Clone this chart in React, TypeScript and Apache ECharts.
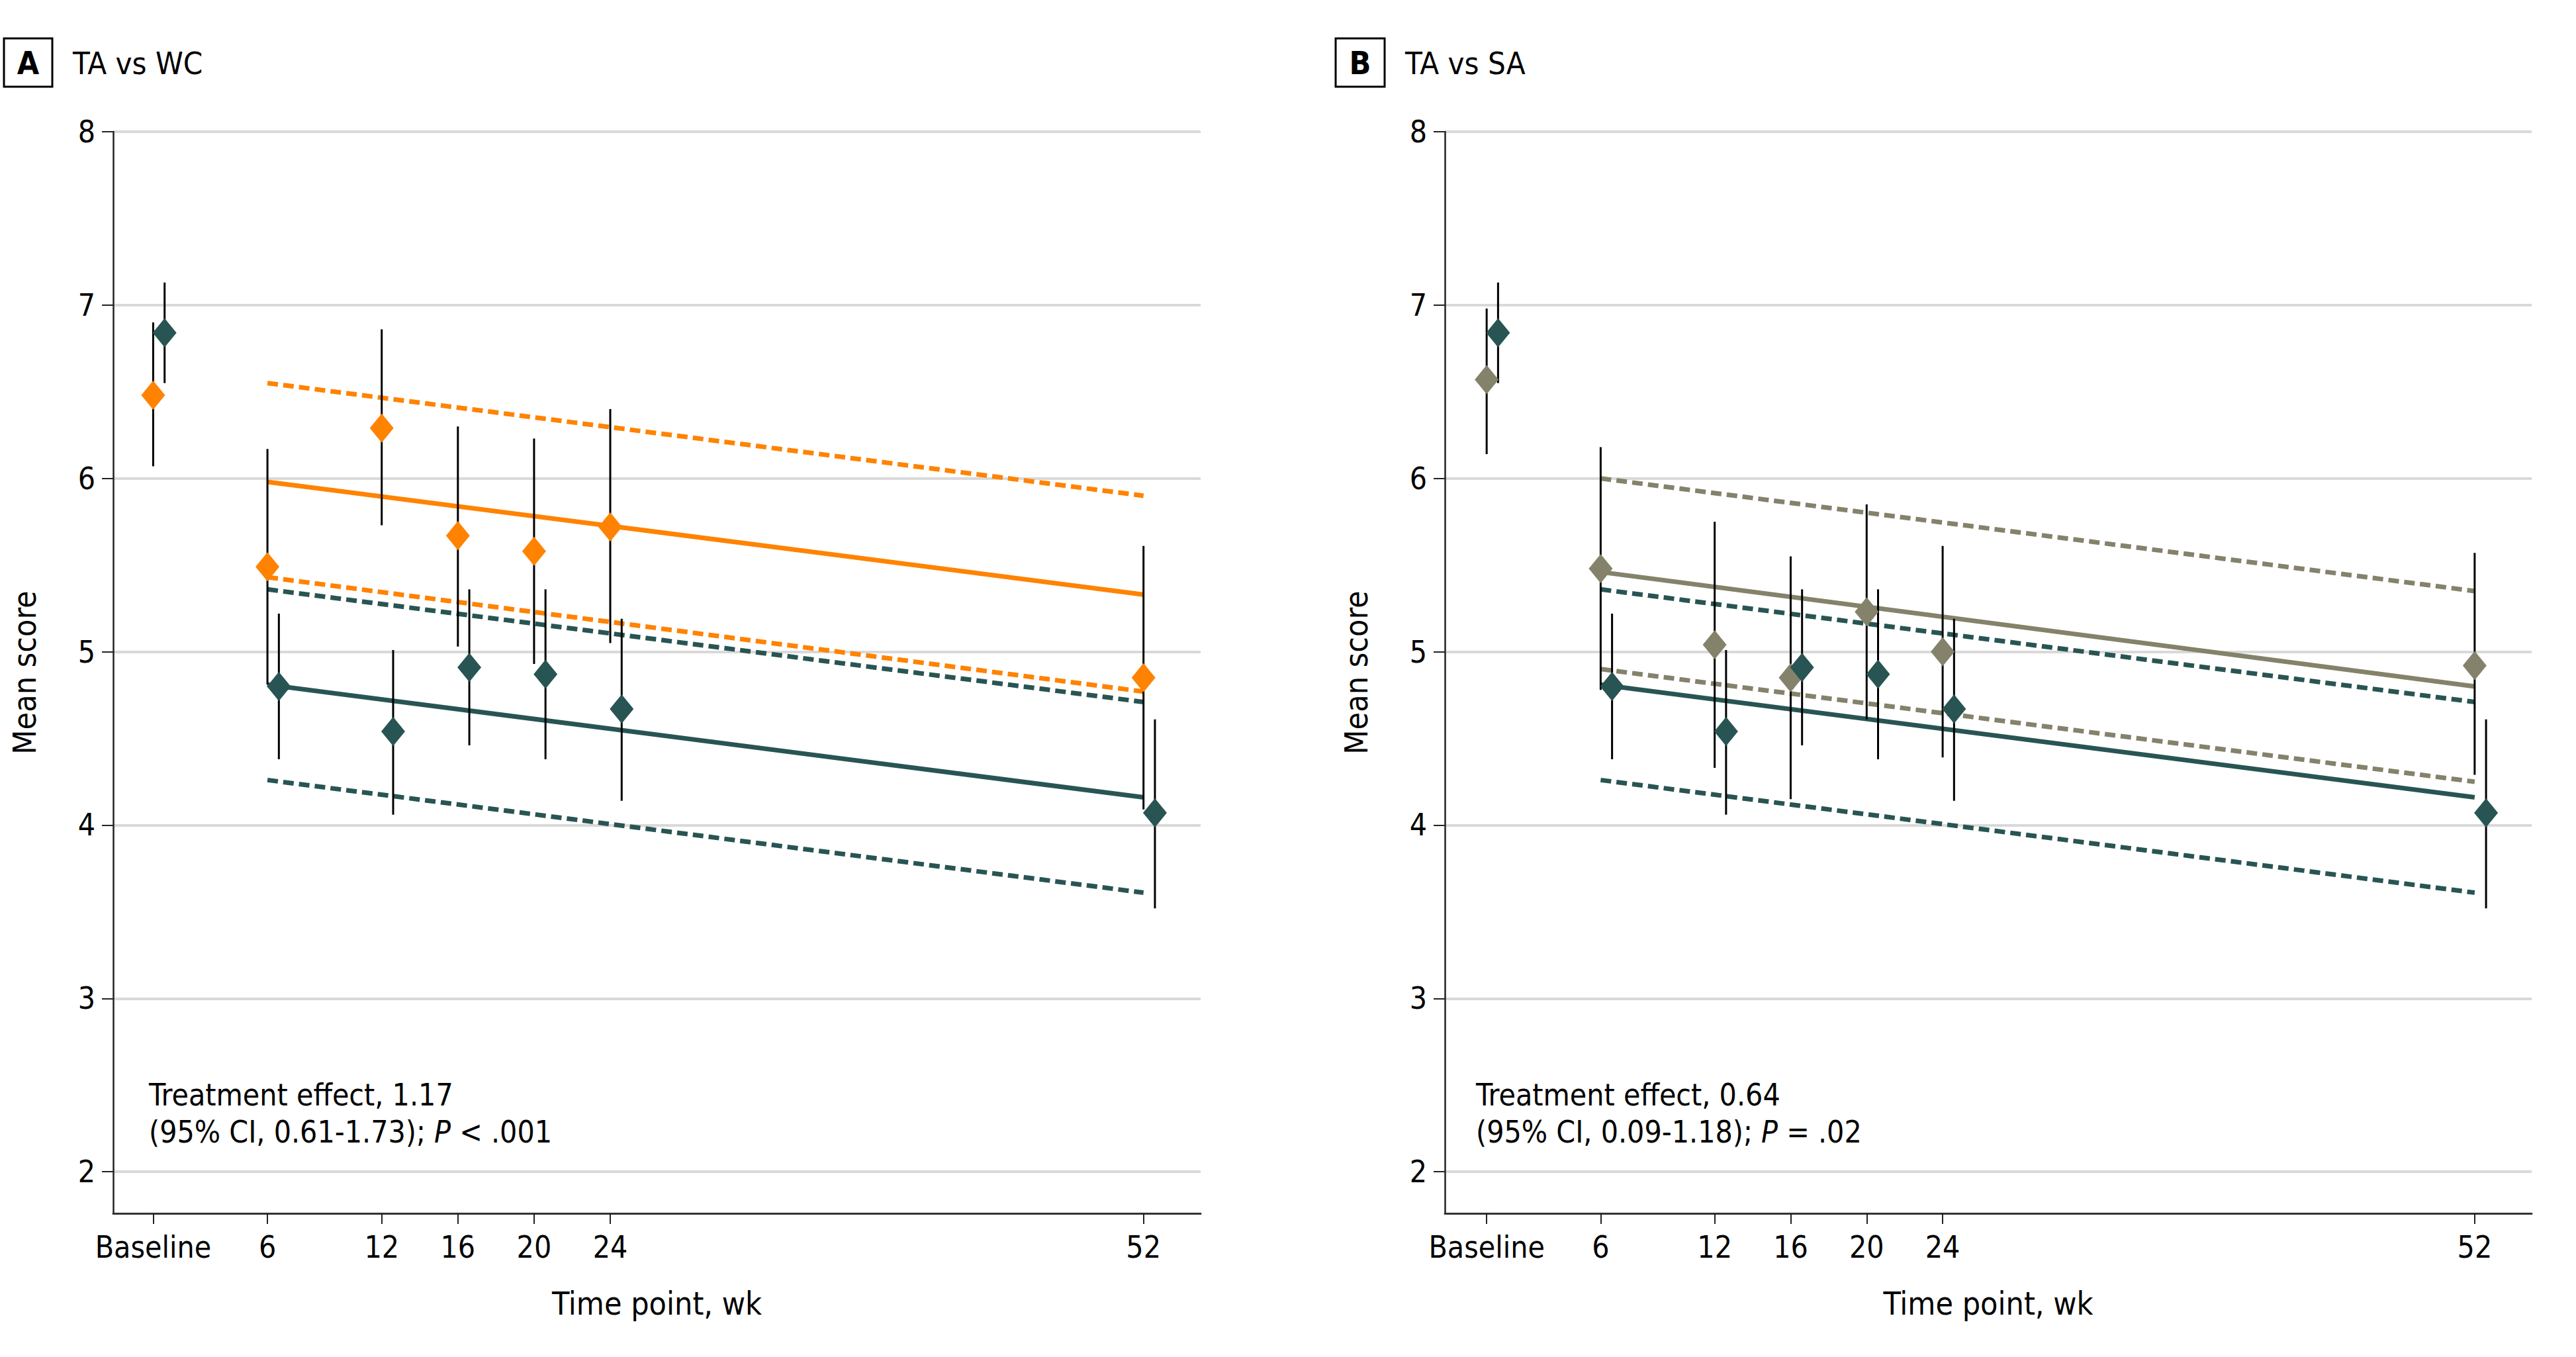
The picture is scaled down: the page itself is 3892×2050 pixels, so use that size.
import React, { useEffect, useRef } from "react";
import * as echarts from "echarts";

// ---------- data ----------
const weeks = [0, 6, 12, 16, 20, 24, 52];
const yTicks = [2, 3, 4, 5, 6, 7, 8];
const dodge = 0.6; // TA group drawn slightly to the right

// TA (common group, dark teal)
const taMean = [6.84, 4.8, 4.54, 4.91, 4.87, 4.67, 4.07];
const taLow = [6.55, 4.38, 4.06, 4.46, 4.38, 4.14, 3.52];
const taHigh = [7.13, 5.22, 5.01, 5.36, 5.36, 5.19, 4.61];

// WC (orange)
const wcMean = [6.48, 5.49, 6.29, 5.67, 5.58, 5.72, 4.85];
const wcLow = [6.07, 4.81, 5.73, 5.03, 4.93, 5.05, 4.09];
const wcHigh = [6.9, 6.17, 6.86, 6.3, 6.23, 6.4, 5.61];

// SA (tan)
const saMean = [6.57, 5.48, 5.04, 4.85, 5.23, 5.0, 4.92];
const saLow = [6.14, 4.78, 4.33, 4.15, 4.61, 4.39, 4.29];
const saHigh = [6.98, 6.18, 5.75, 5.55, 5.85, 5.61, 5.57];

// fitted lines, week 6 -> week 52
const fitWeeks = [6, 52];
const taFit = [4.81, 4.16];
const taFitLow = [4.26, 3.61];
const taFitHigh = [5.36, 4.71];
const wcFit = [5.98, 5.33];
const wcFitLow = [5.43, 4.77];
const wcFitHigh = [6.55, 5.9];
const saFit = [5.46, 4.8];
const saFitLow = [4.9, 4.25];
const saFitHigh = [6.0, 5.35];

const ORANGE = "#FF8300";
const TEAL = "#285553";
const TAN = "#85826B";
const FONT = "'DejaVu Sans Condensed', 'Liberation Sans', Roboto, sans-serif";

function errorSeries(ax: number, off: number, lo: number[], hi: number[]) {
  return {
    type: "custom",
    xAxisIndex: ax,
    yAxisIndex: ax,
    silent: true,
    z: 3,
    encode: { x: 0, y: [1, 2] },
    data: weeks.map((w, i) => [w + off, lo[i], hi[i]]),
    renderItem: (_p: any, api: any) => {
      const a = api.coord([api.value(0), api.value(1)]);
      const b = api.coord([api.value(0), api.value(2)]);
      return {
        type: "line",
        shape: { x1: a[0], y1: a[1], x2: b[0], y2: b[1] },
        style: { stroke: "#000", lineWidth: 3 },
      };
    },
  };
}

function pointSeries(ax: number, off: number, vals: number[], color: string) {
  return {
    type: "scatter",
    xAxisIndex: ax,
    yAxisIndex: ax,
    symbol: "diamond",
    symbolSize: [36, 44],
    itemStyle: { color, opacity: 1 },
    z: 4,
    silent: true,
    data: weeks.map((w, i) => [w + off, vals[i]]),
  };
}

function fitSeries(ax: number, vals: number[], color: string, dashed: boolean) {
  return {
    type: "line",
    xAxisIndex: ax,
    yAxisIndex: ax,
    symbol: "none",
    showSymbol: false,
    silent: true,
    z: 2,
    lineStyle: { color, width: 7, type: dashed ? [16, 8] : "solid", cap: "butt" },
    data: fitWeeks.map((w, i) => [w, vals[i]]),
  };
}

function xAxis(idx: number, min: number) {
  return {
    type: "value",
    gridIndex: idx,
    min,
    max: 55,
    name: "Time point, wk",
    nameLocation: "middle",
    nameGap: 112,
    nameMoveOverlap: false,
    nameTextStyle: { fontSize: 48, color: "#000", fontFamily: FONT },
    axisLine: { show: true, onZero: false, lineStyle: { color: "#333", width: 3 } },
    axisTick: { show: true, customValues: weeks, length: 16, lineStyle: { color: "#222", width: 2 } },
    axisLabel: {
      show: true,
      customValues: weeks,
      margin: 28,
      fontSize: 46,
      color: "#000",
      fontFamily: FONT,
      formatter: (v: number) => (v === 0 ? "Baseline" : String(v)),
    },
    splitLine: { show: false },
  };
}

function yAxis(idx: number) {
  return {
    type: "value",
    gridIndex: idx,
    min: 1.76,
    max: 8,
    name: "Mean score",
    nameLocation: "middle",
    nameGap: 110,
    nameMoveOverlap: false,
    nameTextStyle: { fontSize: 48, color: "#000", fontFamily: FONT },
    axisLine: { show: true, onZero: false, lineStyle: { color: "#222", width: 2.5 } },
    axisTick: { show: true, customValues: yTicks, length: 17, lineStyle: { color: "#222", width: 2 } },
    axisLabel: { show: true, customValues: yTicks, margin: 27, fontSize: 46, color: "#000", fontFamily: FONT },
    splitLine: { show: true, lineStyle: { color: "#D9D9D9", width: 4 } },
  };
}

function panelLabel(x: number, letter: string, title: string, boxW: number) {
  return [
    {
      type: "rect",
      shape: { x, y: 58, width: boxW, height: 73 },
      style: { fill: "none", stroke: "#000", lineWidth: 3 },
    },
    {
      type: "text",
      x: x + boxW / 2,
      y: 95,
      style: {
        text: letter,
        fontSize: 48,
        fontWeight: "bold",
        fontFamily: FONT,
        fill: "#000",
        align: "center",
        verticalAlign: "middle",
        textAlign: "center",
        textVerticalAlign: "middle",
      },
    },
    {
      type: "text",
      x: x + boxW + 31,
      y: 95,
      style: {
        text: title,
        fontSize: 47,
        fontFamily: FONT,
        fill: "#000",
        align: "left",
        verticalAlign: "middle",
        textAlign: "left",
        textVerticalAlign: "middle",
      },
    },
  ];
}

function annotation(x: number, line1: string, line2a: string, line2b: string) {
  return {
    type: "text",
    x,
    y: 1626,
    style: {
      text: `${line1}\n${line2a}{i|P}${line2b}`,
      fontSize: 46,
      lineHeight: 56,
      fontFamily: FONT,
      fill: "#000",
      align: "left",
      verticalAlign: "top",
      textAlign: "left",
      textVerticalAlign: "top",
      rich: {
        i: { fontStyle: "italic", fontSize: 46, lineHeight: 56, fontFamily: FONT, fill: "#000" },
      },
    },
  };
}

export default function App() {
  const ref = useRef<HTMLDivElement>(null);
  useEffect(() => {
    if (!ref.current) return;
    const chart = echarts.init(ref.current, undefined, { renderer: "svg" });
    chart.setOption({
      animation: false,
      backgroundColor: "#fff",
      textStyle: { fontFamily: FONT },
      grid: [
        { left: 171, top: 199, width: 1643, height: 1634, outerBoundsMode: "none", containLabel: false },
        { left: 2183, top: 199, width: 1642, height: 1634, outerBoundsMode: "none", containLabel: false },
      ],
      xAxis: [xAxis(0, -2.1), xAxis(1, -2.2)],
      yAxis: [yAxis(0), yAxis(1)],
      series: [
        // Panel A
        fitSeries(0, wcFitHigh, ORANGE, true),
        fitSeries(0, wcFit, ORANGE, false),
        fitSeries(0, wcFitLow, ORANGE, true),
        fitSeries(0, taFitHigh, TEAL, true),
        fitSeries(0, taFit, TEAL, false),
        fitSeries(0, taFitLow, TEAL, true),
        errorSeries(0, 0, wcLow, wcHigh),
        errorSeries(0, dodge, taLow, taHigh),
        pointSeries(0, 0, wcMean, ORANGE),
        pointSeries(0, dodge, taMean, TEAL),
        // Panel B
        fitSeries(1, saFitHigh, TAN, true),
        fitSeries(1, saFit, TAN, false),
        fitSeries(1, saFitLow, TAN, true),
        fitSeries(1, taFitHigh, TEAL, true),
        fitSeries(1, taFit, TEAL, false),
        fitSeries(1, taFitLow, TEAL, true),
        errorSeries(1, 0, saLow, saHigh),
        errorSeries(1, dodge, taLow, taHigh),
        pointSeries(1, 0, saMean, TAN),
        pointSeries(1, dodge, taMean, TEAL),
      ],
      graphic: [
        ...panelLabel(6, "A", "TA vs WC", 73),
        ...panelLabel(2018, "B", "TA vs SA", 74),
        annotation(225, "Treatment effect, 1.17", "(95% CI, 0.61-1.73); ", " < .001"),
        annotation(2230, "Treatment effect, 0.64", "(95% CI, 0.09-1.18); ", " = .02"),
      ],
    });
    return () => chart.dispose();
  }, []);
  return (
    <div
      ref={ref}
      style={{ position: "absolute", left: 0, top: 0, width: 3892, height: 2050, background: "#fff" }}
    />
  );
}
